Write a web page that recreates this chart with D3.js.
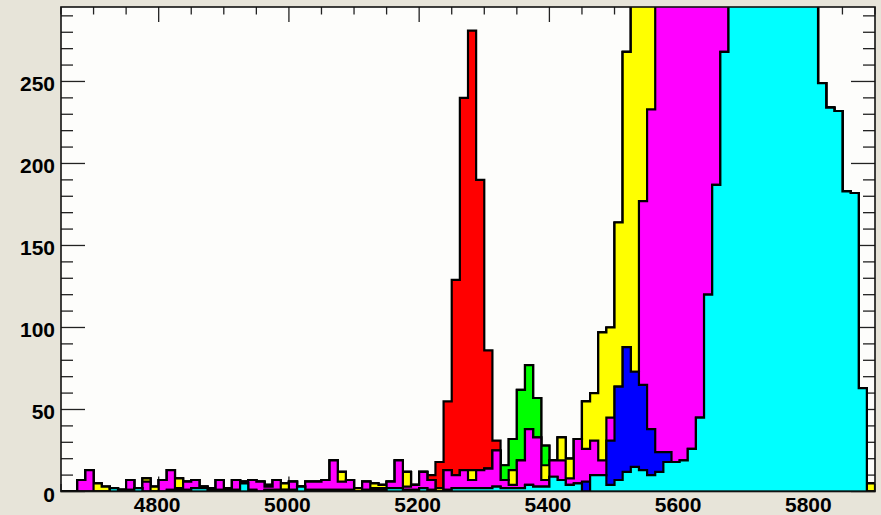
<!DOCTYPE html>
<html lang="en">
<head>
    <meta charset="UTF-8" />
    <title>Stacked spectrum</title>
    <style>
        html, body { margin: 0; padding: 0; background: #e7e4d9; }
        svg { display: block; }
        .tick-label { font-family: "Liberation Sans", Arial, Helvetica, sans-serif; font-weight: bold; font-size: 21px; fill: #000; }
    </style>
</head>
<body>
    <div id="chart"></div>
    <script src="https://d3js.org/d3.v7.min.js"></script>
    <script>
        // --- Data: 100 bins of 12.5 from 4650 to 5900, stacked bottom to top ---
        const binStart = 4650;
        const binWidth = 12.5;

        const cyan = [
            0, 0, 0, 0, 0, 0, 2, 1, 1, 2,
            0, 0, 0, 1, 1, 1, 2, 2, 1, 1,
            1, 1, 5, 1, 0, 1, 1, 1, 1, 3,
            1, 1, 1, 1, 1, 1, 0, 1, 1, 1,
            2, 2, 1, 1, 2, 1, 0, 1, 2, 2,
            2, 2, 2, 3, 2, 2, 2, 4, 3, 3,
            9, 7, 4, 5, 0, 10, 10, 4, 7, 12,
            15, 13, 10, 12, 18, 18, 19, 26, 45, 120,
            187, 268, 330, 370, 410, 440, 460, 465, 455, 430,
            400, 360, 310, 249, 234, 232, 183, 182, 63, 0
        ];
        const blue = [
            0, 0, 0, 0, 0, 0, 0, 0, 0, 0,
            0, 0, 0, 0, 0, 0, 0, 0, 0, 0,
            0, 0, 0, 0, 0, 0, 0, 0, 0, 0,
            0, 0, 0, 0, 0, 0, 0, 0, 0, 0,
            0, 0, 0, 0, 0, 0, 0, 0, 0, 0,
            0, 0, 0, 0, 0, 0, 0, 0, 0, 0,
            0, 0, 0, 0, 6, 0, 0, 27, 57, 76,
            58, 52, 28, 12, 6, 0, 0, 0, 0, 0,
            0, 0, 0, 0, 0, 0, 0, 0, 0, 0,
            0, 0, 0, 0, 0, 0, 0, 0, 0, 0
        ];
        const magenta = [
            0, 0, 7, 13, 0, 0, 0, 0, 6, 0,
            6, 0, 7, 12, 1, 5, 5, 1, 1, 6,
            1, 6, 1, 6, 6, 2, 6, 0, 5, 0,
            5, 5, 6, 18, 5, 6, 0, 5, 1, 1,
            4, 17, 2, 3, 10, 6, 0, 12, 8, 11,
            5, 11, 12, 22, 5, 2, 17, 34, 30, 4,
            10, 12, 4, 27, 20, 21, 9, 14, 0, 0,
            0, 112, 195, 320, 370, 410, 425, 410, 370, 260,
            170, 80, 30, 0, 0, 0, 0, 0, 0, 0,
            0, 0, 0, 0, 0, 0, 0, 0, 0, 0
        ];
        const yellow = [
            0, 0, 0, 0, 5, 3, 0, 0, 0, 0,
            2, 3, 0, 0, 6, 0, 0, 0, 0, 0,
            0, 0, 0, 0, 0, 1, 0, 4, 0, 0,
            0, 0, 0, 0, 6, 0, 2, 0, 3, 2,
            0, 0, 9, 0, 0, 0, 2, 0, 0, 0,
            6, 0, 0, 0, 0, 9, 0, 0, 0, 9,
            0, 14, 12, 0, 29, 29, 78, 55, 100, 180,
            270, 210, 190, 0, 0, 0, 0, 0, 0, 0,
            0, 0, 0, 0, 0, 0, 0, 0, 0, 0,
            0, 0, 0, 0, 0, 0, 0, 0, 0, 5
        ];
        const green = [
            0, 0, 0, 0, 0, 0, 0, 0, 0, 0,
            0, 0, 0, 0, 0, 0, 0, 0, 0, 0,
            0, 0, 0, 0, 0, 0, 0, 0, 0, 0,
            0, 0, 0, 0, 0, 0, 0, 0, 0, 0,
            0, 0, 0, 0, 0, 0, 0, 0, 0, 0,
            0, 0, 0, 0, 9, 19, 43, 39, 24, 12,
            0, 0, 0, 0, 0, 0, 0, 0, 0, 0,
            0, 0, 0, 0, 0, 0, 0, 0, 0, 0,
            0, 0, 0, 0, 0, 0, 0, 0, 0, 0,
            0, 0, 0, 0, 0, 0, 0, 0, 0, 0
        ];
        const red = [
            0, 0, 0, 0, 0, 0, 0, 0, 0, 0,
            0, 0, 0, 0, 0, 0, 0, 0, 0, 0,
            0, 0, 0, 0, 0, 0, 0, 0, 0, 0,
            0, 0, 0, 0, 0, 0, 0, 0, 0, 0,
            0, 0, 0, 0, 0, 3, 16, 42, 119, 227,
            268, 177, 72, 6, 0, 0, 0, 0, 0, 0,
            0, 0, 0, 0, 0, 0, 0, 0, 0, 0,
            0, 0, 0, 0, 0, 0, 0, 0, 0, 0,
            0, 0, 0, 0, 0, 0, 0, 0, 0, 0,
            0, 0, 0, 0, 0, 0, 0, 0, 0, 0
        ];

        const seriesNames = ["cyan", "blue", "magenta", "yellow", "green", "red"];
        const seriesColors = ["#00ffff", "#0000ff", "#ff00ff", "#ffff00", "#00ff00", "#ff0000"];
        const xTickValues = [4800, 5000, 5200, 5400, 5600, 5800];
        const yTickValues = [0, 50, 100, 150, 200, 250];

        // --- Layout ---
        const width = 881, height = 515;
        const plot = { left: 61, right: 875, top: 7, bottom: 491.5 };
        const xDomain = [4650, 5900];
        const yMax = 295.4;

        const svg = d3.select("#chart").append("svg")
            .attr("width", width)
            .attr("height", height);

        svg.append("rect")
            .attr("width", width).attr("height", height)
            .attr("fill", "#e7e4d9");

        const x = d3.scaleLinear().domain(xDomain).range([plot.left, plot.right]);
        const y = d3.scaleLinear().domain([0, yMax]).range([plot.bottom, plot.top]);

        svg.append("defs").append("clipPath").attr("id", "plotClip")
            .append("rect")
            .attr("x", plot.left).attr("y", plot.top)
            .attr("width", plot.right - plot.left)
            .attr("height", plot.bottom - plot.top);

        svg.append("rect")
            .attr("x", plot.left).attr("y", plot.top)
            .attr("width", plot.right - plot.left)
            .attr("height", plot.bottom - plot.top)
            .attr("fill", "#fdfdfb");

        // ticks (drawn under the histograms, like ROOT)
        const tickG = svg.append("g").attr("stroke", "#222").attr("stroke-width", 1.3);
        const xMinor = d3.range(xDomain[0], xDomain[1] + 1, 50);
        xMinor.forEach(v => {
            const major = v % 200 === 0;
            const len = major ? 15 : 7.5;
            tickG.append("line").attr("x1", x(v)).attr("x2", x(v))
                .attr("y1", plot.top).attr("y2", plot.top + len);
            tickG.append("line").attr("x1", x(v)).attr("x2", x(v))
                .attr("y1", plot.bottom).attr("y2", plot.bottom - len);
        });
        d3.range(0, 291, 10).forEach(v => {
            const major = v % 50 === 0;
            const len = major ? 24 : 12;
            tickG.append("line").attr("x1", plot.left).attr("x2", plot.left + len)
                .attr("y1", y(v)).attr("y2", y(v));
            tickG.append("line").attr("x1", plot.right).attr("x2", plot.right - len)
                .attr("y1", y(v)).attr("y2", y(v));
        });

        // --- Stacked histograms ---
        const rows = cyan.map((_, i) => ({
            cyan: cyan[i], blue: blue[i], magenta: magenta[i],
            yellow: yellow[i], green: green[i], red: red[i]
        }));
        const layers = d3.stack().keys(seriesNames)(rows);
        const edges = d3.range(rows.length + 1).map(i => binStart + i * binWidth);

        const area = d3.area()
            .x(d => x(d[0]))
            .y0(y(0))
            .y1(d => y(d[1]))
            .curve(d3.curveStepAfter);

        const histG = svg.append("g").attr("clip-path", "url(#plotClip)");
        // draw the cumulative sums from the top down so each band shows
        layers.slice().reverse().forEach(layer => {
            const pts = edges.map((e, i) => [e, layer[Math.min(i, rows.length - 1)][1]]);
            histG.append("path")
                .datum(pts)
                .attr("d", area)
                .attr("fill", seriesColors[layer.index])
                .attr("stroke", "#000")
                .attr("stroke-width", 2.2)
                .attr("stroke-linejoin", "miter");
        });

        // frame
        svg.append("rect")
            .attr("x", plot.left).attr("y", plot.top)
            .attr("width", plot.right - plot.left)
            .attr("height", plot.bottom - plot.top)
            .attr("fill", "none")
            .attr("stroke", "#111")
            .attr("stroke-width", 1.6);

        // labels
        svg.append("g").selectAll("text")
            .data(xTickValues)
            .join("text")
            .attr("class", "tick-label")
            .attr("x", d => x(d) - 1.5)
            .attr("y", 511.5)
            .attr("text-anchor", "middle")
            .text(d => d);

        svg.append("g").selectAll("text")
            .data(yTickValues)
            .join("text")
            .attr("class", "tick-label")
            .attr("x", 55)
            .attr("y", d => y(d) + 10)
            .attr("text-anchor", "end")
            .text(d => d);
    </script>
</body>
</html>
